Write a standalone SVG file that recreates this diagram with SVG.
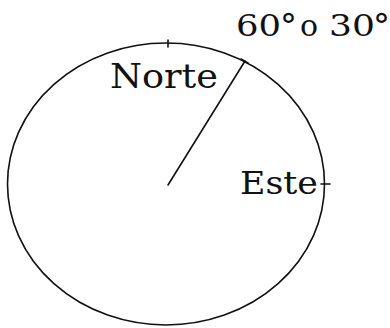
<svg xmlns="http://www.w3.org/2000/svg" width="390" height="328" viewBox="0 0 390 328">
<style>
.s{fill:none;stroke:#111;stroke-width:1.6;stroke-linecap:round}
.t{font-family:"DejaVu Serif","Liberation Serif",serif;fill:#111}
</style>
<rect width="390" height="328" fill="#fff"/>
<g id="circle">
<ellipse class="s" cx="166" cy="184" rx="158.5" ry="141"/>
<line class="s" x1="168" y1="40" x2="168" y2="47"/>
<line class="s" x1="321" y1="184" x2="330" y2="184"/>
</g>
<g id="connectors">
<line class="s" x1="168" y1="185" x2="245" y2="61"/>
<line class="s" x1="241" y1="59" x2="248" y2="63"/>
</g>
<g id="labels">
<text class="t" x="110" y="88" font-size="34" textLength="108" lengthAdjust="spacingAndGlyphs">Norte</text>
<text class="t" x="240" y="194" font-size="32" textLength="78" lengthAdjust="spacingAndGlyphs">Este</text>
<text class="t" y="36" font-size="30"><tspan x="236" textLength="45" lengthAdjust="spacingAndGlyphs">60</tspan><tspan x="280" font-size="34" dy="2">°</tspan><tspan x="300" dy="-2">o</tspan><tspan x="329" textLength="46" lengthAdjust="spacingAndGlyphs">30</tspan><tspan x="373" font-size="34" dy="2">°</tspan></text>
</g>
</svg>
